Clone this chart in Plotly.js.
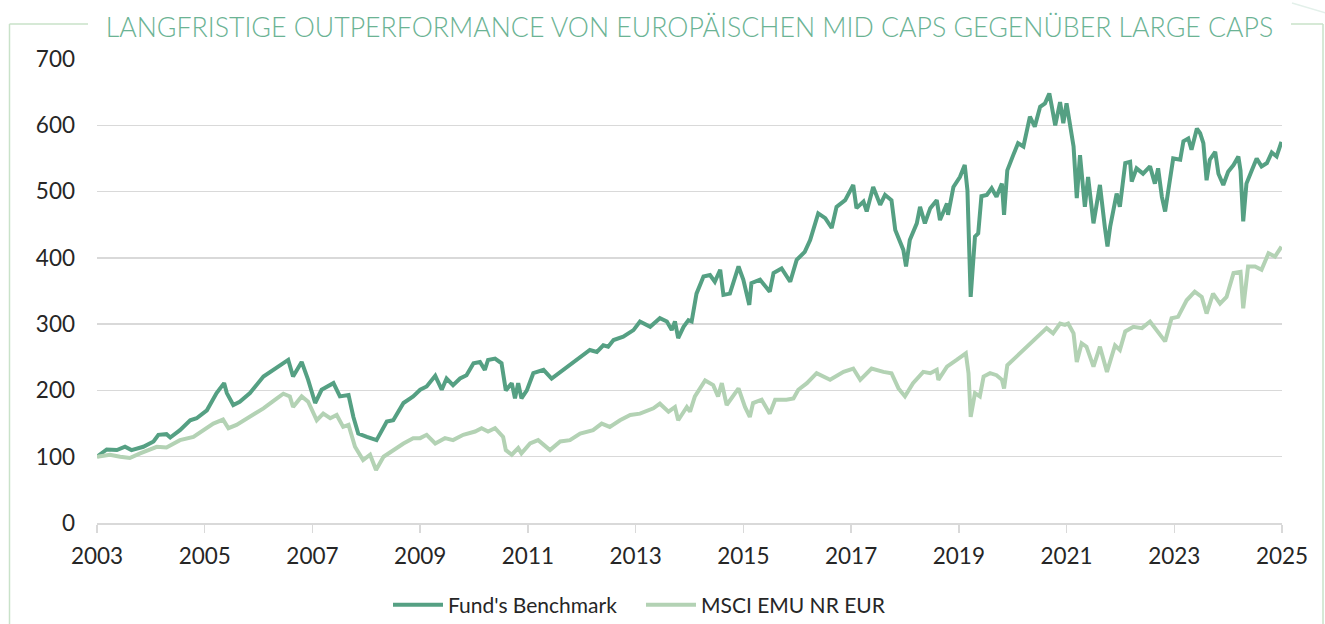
<!DOCTYPE html>
<html>
<head>
<meta charset="utf-8">
<script src="https://cdn.plot.ly/plotly-3.0.1.min.js"></script>
<style>
html,body{margin:0;padding:0;background:#fff;}
#chart{width:1325px;height:624px;}
</style>
</head>
<body>
<div id="chart"></div>
<script>
// ---- Data ----
const chartTitle = "LANGFRISTIGE OUTPERFORMANCE VON EUROPÄISCHEN MID CAPS GEGENÜBER LARGE CAPS";
const seriesNames = ["Fund's Benchmark", "MSCI EMU NR EUR"];
const xTickValues = [2003, 2005, 2007, 2009, 2011, 2013, 2015, 2017, 2019, 2021, 2023, 2025];
const xTickLabels = ["2003", "2005", "2007", "2009", "2011", "2013", "2015", "2017", "2019", "2021", "2023", "2025"];
const yTickValues = [0, 100, 200, 300, 400, 500, 600, 700];

const fundYears = [
2003.00,2003.18,2003.37,2003.52,2003.64,2003.86,2004.05,2004.14,2004.29,2004.36,2004.54,2004.73,2004.85,
2005.04,2005.22,2005.36,2005.41,2005.53,2005.65,2005.84,2006.09,2006.27,2006.40,2006.55,2006.64,2006.80,2006.92,
2007.05,2007.17,2007.39,2007.51,2007.67,2007.76,2007.85,2008.01,2008.19,2008.38,2008.50,2008.69,2008.87,
2009.00,2009.12,2009.28,2009.40,2009.49,2009.61,2009.74,2009.86,2009.99,2010.11,2010.20,2010.26,2010.39,2010.51,
2010.59,2010.70,2010.76,2010.82,2010.88,2010.98,2011.10,2011.29,2011.44,2011.60,2011.78,2011.97,2012.15,2012.28,
2012.40,2012.49,2012.59,2012.77,2012.96,2013.08,2013.27,2013.45,2013.58,2013.67,2013.73,2013.79,2013.89,2013.98,
2014.04,2014.13,2014.26,2014.38,2014.47,2014.57,2014.63,2014.75,2014.91,2015.00,2015.11,2015.15,2015.31,2015.49,
2015.56,2015.71,2015.87,2015.99,2016.14,2016.24,2016.39,2016.52,2016.64,2016.73,2016.89,2017.04,2017.10,2017.23,
2017.29,2017.41,2017.54,2017.63,2017.75,2017.82,2017.97,2018.02,2018.09,2018.22,2018.28,2018.37,2018.47,2018.59,
2018.65,2018.78,2018.80,2018.90,2019.02,2019.11,2019.16,2019.22,2019.30,2019.36,2019.42,2019.52,2019.61,2019.70,
2019.80,2019.84,2019.90,2020.01,2020.10,2020.20,2020.32,2020.41,2020.51,2020.60,2020.68,2020.72,2020.79,2020.88,
2020.94,2021.00,2021.08,2021.13,2021.19,2021.25,2021.34,2021.40,2021.50,2021.62,2021.71,2021.76,2021.81,2021.93,
2021.99,2022.09,2022.18,2022.21,2022.30,2022.42,2022.55,2022.64,2022.70,2022.77,2022.83,2022.92,2022.98,2023.11,
2023.17,2023.26,2023.32,2023.42,2023.48,2023.54,2023.60,2023.66,2023.76,2023.82,2023.91,2024.00,2024.10,2024.19,
2024.23,2024.28,2024.34,2024.44,2024.53,2024.62,2024.72,2024.81,2024.90,2024.99
];
const fundValues = [
100,111,110,115,110,115,123,133,134,129,140,155,158,
170,196,211,196,178,183,196,221,231,238,246,221,243,216,
181,201,211,191,193,160,135,130,125,153,155,181,191,
201,206,222,201,218,208,218,223,241,243,231,246,248,241,
200,211,188,211,188,200,226,231,218,228,238,251,261,258,
268,266,276,281,291,304,296,309,304,291,304,279,296,306,
304,346,372,374,364,382,344,346,387,367,329,362,367,349,
377,384,364,397,409,427,467,460,445,477,487,510,475,485,
470,507,480,495,487,442,412,387,427,452,477,452,475,487,
457,482,465,507,522,540,502,341,432,437,493,495,505,492,
512,465,532,555,573,568,613,598,628,633,648,631,600,635,
603,633,598,568,490,555,477,522,452,510,447,417,447,497,
477,543,545,515,535,527,538,512,535,492,470,522,550,548,
576,580,563,595,588,573,517,548,560,527,510,530,540,553,
532,455,512,532,550,538,543,559,553,575
];

const msciYears = [
2003.00,2003.24,2003.43,2003.61,2003.80,2004.11,2004.29,2004.54,2004.79,2004.97,2005.16,2005.34,2005.44,2005.59,
2005.84,2006.09,2006.34,2006.46,2006.58,2006.64,2006.80,2006.92,2007.08,2007.20,2007.33,2007.45,2007.57,2007.67,
2007.79,2007.94,2008.07,2008.18,2008.32,2008.50,2008.69,2008.87,2009.00,2009.12,2009.28,2009.46,2009.61,2009.80,
2010.02,2010.14,2010.26,2010.39,2010.54,2010.59,2010.70,2010.82,2010.88,2011.04,2011.19,2011.41,2011.60,2011.78,
2011.97,2012.21,2012.37,2012.52,2012.71,2012.90,2013.08,2013.33,2013.45,2013.61,2013.73,2013.79,2013.95,2014.01,
2014.10,2014.29,2014.44,2014.53,2014.60,2014.69,2014.91,2015.03,2015.12,2015.18,2015.34,2015.49,2015.59,2015.80,
2015.93,2016.02,2016.18,2016.36,2016.61,2016.86,2017.04,2017.17,2017.38,2017.60,2017.75,2017.88,2018.00,2018.15,
2018.34,2018.47,2018.59,2018.62,2018.78,2018.96,2019.13,2019.18,2019.22,2019.30,2019.39,2019.46,2019.58,2019.70,
2019.80,2019.84,2019.90,2020.07,2020.32,2020.48,2020.63,2020.75,2020.88,2020.97,2021.03,2021.13,2021.19,2021.28,
2021.37,2021.50,2021.62,2021.75,2021.81,2021.90,2021.99,2022.09,2022.24,2022.40,2022.55,2022.64,2022.73,2022.83,
2022.95,2023.07,2023.23,2023.38,2023.51,2023.60,2023.72,2023.85,2023.97,2024.10,2024.23,2024.28,2024.37,2024.50,
2024.62,2024.75,2024.87,2024.99
];
const msciValues = [
100,103,100,98,105,115,114,125,130,140,150,156,143,148,
160,173,188,195,191,175,191,183,155,165,158,163,145,148,
115,95,103,80,100,110,120,128,128,133,120,128,125,133,
138,143,138,143,130,110,103,113,105,120,125,110,123,125,
135,140,150,145,155,163,165,173,180,168,175,155,175,168,
191,215,208,191,211,178,203,175,160,181,186,165,186,186,
188,201,211,226,216,228,233,216,233,228,226,203,191,211,
228,226,231,216,236,246,256,226,160,196,191,221,226,223,
216,203,238,251,271,284,294,286,301,299,301,286,243,271,
266,236,266,228,246,268,261,289,296,294,304,294,286,274,
309,311,336,349,341,316,346,331,341,377,379,324,387,387,
382,407,402,417
];

// ---- Style ----
const darkGreen = "#55a083";
const lightGreen = "#b3d2b4";
const frameColor = "#c9e2c9";
const gridColor = "#d9d9d9";
const textColor = "#262626";
const FONT = "Lato, 'Open Sans', sans-serif";

const traces = [
  {x: fundYears, y: fundValues, name: seriesNames[0], type: "scatter", mode: "lines",
   line: {color: darkGreen, width: 4, shape: "linear"}},
  {x: msciYears, y: msciValues, name: seriesNames[1], type: "scatter", mode: "lines",
   line: {color: lightGreen, width: 4, shape: "linear"}}
];

// Plot area: x 97..1282 px, y 59..523 px
const L = 97, R = 1282, T = 59, B = 523;
const px = v => (v - L) / (R - L);
const py = v => (B - v) / (B - T);

const shapes = [
  {type: "line", xref: "paper", yref: "paper", x0: px(9.5), x1: px(9.5), y0: py(24), y1: py(640), line: {color: frameColor, width: 1.5}},
  {type: "line", xref: "paper", yref: "paper", x0: px(9.5), x1: px(88), y0: py(24), y1: py(24), line: {color: frameColor, width: 1.5}},
  {type: "line", xref: "paper", yref: "paper", x0: px(1291), x1: px(1323), y0: py(24), y1: py(24), line: {color: frameColor, width: 1.5}},
  {type: "line", xref: "paper", yref: "paper", x0: px(1323), x1: px(1323), y0: py(24), y1: py(640), line: {color: frameColor, width: 1.5}},
  {type: "line", xref: "paper", yref: "paper", x0: px(1292), x1: px(1326), y0: py(3), y1: py(13), line: {color: "#e3f0ea", width: 1.5}}
];

const layout = {
  width: 1325, height: 624,
  margin: {l: L, r: 1325 - R, t: T, b: 624 - B, pad: 0, autoexpand: false},
  paper_bgcolor: "#ffffff", plot_bgcolor: "#ffffff",
  font: {family: FONT, color: textColor, size: 20},
  title: {
    text: chartTitle,
    font: {family: FONT, size: 26.7, color: "#6bb394", weight: 300},
    xref: "paper", x: 0.5, xanchor: "center",
    yref: "container", y: 1 - 28 / 624, yanchor: "middle"
  },
  xaxis: {
    type: "linear", range: [2003, 2025],
    tickmode: "array", tickvals: xTickValues, ticktext: xTickLabels,
    showgrid: false, zeroline: false,
    showline: true, linecolor: gridColor, linewidth: 2,
    ticks: "outside", ticklen: 8, tickwidth: 1.5, tickcolor: gridColor,
    tickfont: {family: FONT, size: 22.5, color: textColor},
    ticklabelstandoff: 4
  },
  yaxis: {
    range: [0, 700], tickmode: "array", tickvals: yTickValues,
    showgrid: true, gridcolor: gridColor, gridwidth: 1.5,
    zeroline: false, showline: false, ticks: "",
    tickfont: {family: FONT, size: 22.5, color: textColor},
    ticklabelstandoff: 21
  },
  showlegend: true,
  legend: {
    orientation: "h", xref: "paper", x: px(641), xanchor: "center",
    yref: "paper", y: py(605), yanchor: "middle",
    font: {family: FONT, size: 21, color: textColor},
    itemwidth: 50, entrywidth: 188, entrywidthmode: "pixels",
    tracegroupgap: 0, bgcolor: "rgba(0,0,0,0)"
  },
  shapes: shapes
};

Plotly.newPlot("chart", traces, layout, {displayModeBar: false, staticPlot: true});
</script>
</body>
</html>
